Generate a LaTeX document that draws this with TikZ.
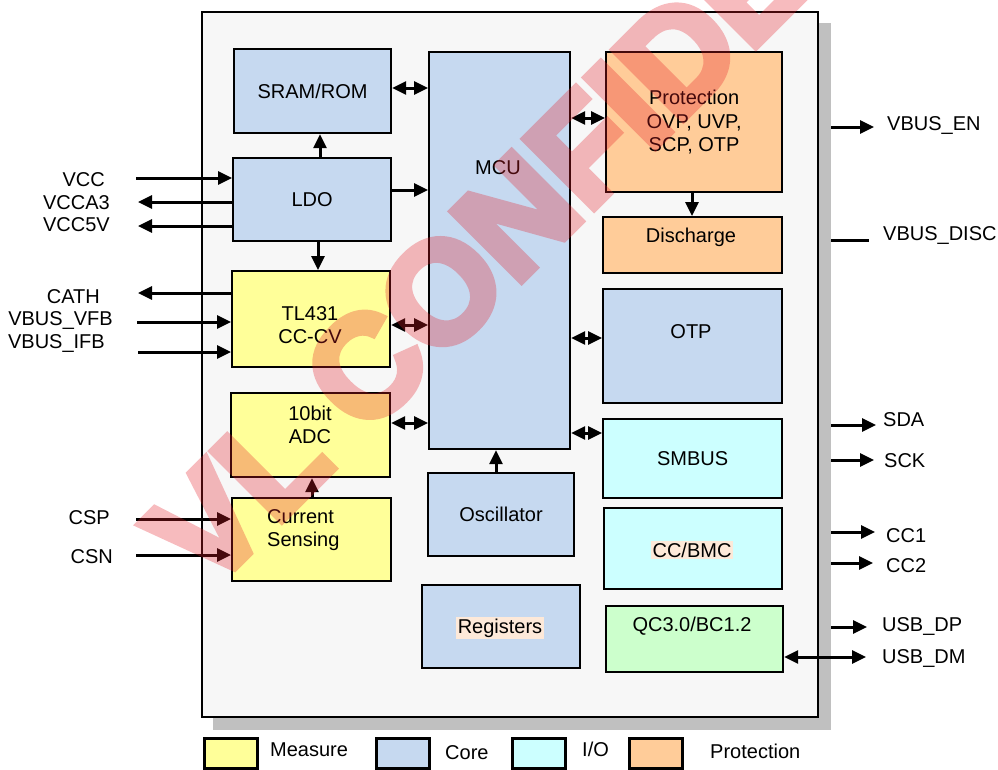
\documentclass[tikz,border=0pt]{standalone}
\usepackage{fontspec}
\setmainfont{Liberation Sans}
\newfontfamily\wmfont[FakeBold=5.5]{Liberation Sans Bold}
\usetikzlibrary{arrows.meta}

\definecolor{coreblue}{HTML}{C6D9F0}
\definecolor{measureyel}{HTML}{FFFF99}
\definecolor{iocyan}{HTML}{CCFFFF}
\definecolor{protorange}{HTML}{FFCC99}
\definecolor{qcgreen}{HTML}{CCFFCC}
\definecolor{framegray}{HTML}{F7F7F7}
\definecolor{shadowgray}{HTML}{C0C0C0}
\definecolor{hilite}{HTML}{FDE9D9}
\definecolor{wmred}{RGB}{230,30,40}

\begin{document}
\begin{tikzpicture}[x=1pt,y=-1pt,>={Triangle[length=14pt,width=13pt]},
    blk/.style={draw,line width=2.2,inner sep=0,anchor=north west,align=center,font=\fontsize{20}{23.5}\selectfont},
    core/.style={blk,fill=coreblue},
    measure/.style={blk,fill=measureyel},
    io/.style={blk,fill=iocyan},
    prot/.style={blk,fill=protorange},
    lbl/.style={inner sep=0,align=center,font=\fontsize{20}{23.5}\selectfont},
    sig/.style={line width=3},
    key/.style={draw,line width=3,inner sep=0,anchor=north west,minimum width=53,minimum height=30},
    wmark/.style={anchor=base west,rotate=45,inner sep=0,text=wmred,font=\fontsize{142}{142}\wmfont}]

    \useasboundingbox (0,0) rectangle (998,769);

    % chip outline
    \node[fill=shadowgray,inner sep=0,anchor=north west,minimum width=618,minimum height=707] (shadow) at (213,23) {};
    \node[draw,line width=2.2,fill=framegray,inner sep=0,anchor=north west,minimum width=616,minimum height=705] (chip) at (201,11) {};

    % blocks
    \node[core,minimum width=157,minimum height=84] (sram) at (233,48) {SRAM/ROM};
    \node[core,minimum width=158,minimum height=83] (ldo) at (232,157) {LDO};
    \node[measure,minimum width=158,minimum height=96] (tl) at (231,270) {};
    \node[lbl] (tlt) at (310,325) {TL431\\CC-CV};
    \node[measure,minimum width=159,minimum height=84] (adc) at (230,392) {};
    \node[lbl] (adct) at (310,425) {10bit\\ADC};
    \node[measure,minimum width=159,minimum height=83] (cs) at (231,497) {};
    \node[lbl,align=left,anchor=west] (cst) at (267,530) {Current\\Sensing};
    \node[core,minimum width=141,minimum height=397] (mcu) at (428,51) {};
    \node[lbl] (mcut) at (498,168) {MCU};
    \node[core,minimum width=146,minimum height=83] (osc) at (427,472) {Oscillator};
    \node[core,minimum width=158,minimum height=83] (reg) at (421,584) {};
    \node[lbl,fill=hilite,inner sep=1.5] (regt) at (500,628) {Registers};
    \node[prot,minimum width=176,minimum height=140] (prt) at (605,51) {Protection\\OVP, UVP,\\SCP, OTP};
    \node[prot,minimum width=179,minimum height=56] (dis) at (602,216) {};
    \node[lbl] (dist) at (691,237) {Discharge};
    \node[core,minimum width=179,minimum height=114] (otp) at (602,288) {};
    \node[lbl] (otpt) at (691,332) {OTP};
    \node[io,minimum width=179,minimum height=79] (smb) at (602,418) {SMBUS};
    \node[io,minimum width=178,minimum height=81] (cc) at (603,507) {};
    \node[lbl,fill=hilite,inner sep=1.5] (cct) at (692,550) {CC/BMC};
    \node[blk,fill=qcgreen,minimum width=177,minimum height=66] (qc) at (605,605) {};
    \node[lbl] (qct) at (692,626) {QC3.0/BC1.2};

    % internal links
    \draw[sig,<->] (sram.east |- 0,88) -- (mcu.west |- 0,88);
    \draw[sig,->] (ldo.north -| 320,0) -- (sram.south -| 320,0);
    \draw[sig,->] (ldo.east |- 0,190) -- (mcu.west |- 0,190);
    \draw[sig,->] (ldo.south -| 318,0) -- (tl.north -| 318,0);
    \draw[sig,<->] (tl.east |- 0,325) -- (mcu.west |- 0,325);
    \draw[sig,<->] (adc.east |- 0,423) -- (mcu.west |- 0,423);
    \draw[sig,->] (cs.north -| 312,0) -- (adc.south -| 312,0);
    \draw[sig,->] (osc.north -| 496,0) -- (mcu.south -| 496,0);
    \draw[sig,<->] (mcu.east |- 0,118) -- (prt.west |- 0,118);
    \draw[sig,->] (prt.south -| 692,0) -- (dis.north -| 692,0);
    \draw[sig,<->] (mcu.east |- 0,338) -- (otp.west |- 0,338);
    \draw[sig,<->] (mcu.east |- 0,433) -- (smb.west |- 0,433);

    % left pins
    \coordinate (vccin) at (136,178);
    \coordinate (vcca3out) at (138,202);
    \coordinate (vcc5vout) at (138,226);
    \coordinate (cathout) at (138,293);
    \coordinate (vfbin) at (137,322);
    \coordinate (ifbin) at (138,352);
    \coordinate (cspin) at (136,519);
    \coordinate (csnin) at (136,555);
    \draw[sig,->] (vccin) -- (vccin -| ldo.west);
    \draw[sig,->] (vcca3out -| ldo.west) -- (vcca3out);
    \draw[sig,->] (vcc5vout -| ldo.west) -- (vcc5vout);
    \draw[sig,->] (cathout -| tl.west) -- (cathout);
    \draw[sig,->] (vfbin) -- (vfbin -| tl.west);
    \draw[sig,->] (ifbin) -- (ifbin -| tl.west);
    \draw[sig,->] (cspin) -- (cspin -| cs.west);
    \draw[sig,->] (csnin) -- (csnin -| cs.west);
    \node[lbl,anchor=east] (vcc) at (105,180) {VCC};
    \node[lbl,anchor=east] (vcca3) at (110,203) {VCCA3};
    \node[lbl,anchor=east] (vcc5v) at (110,225) {VCC5V};
    \node[lbl,anchor=east] (cath) at (100,297) {CATH};
    \node[lbl,anchor=east] (vfb) at (113,320) {VBUS\_VFB};
    \node[lbl,anchor=east] (ifb) at (105,343) {VBUS\_IFB};
    \node[lbl,anchor=east] (csp) at (110,518) {CSP};
    \node[lbl,anchor=east] (csn) at (113,557) {CSN};

    % right pins
    \coordinate (enout) at (874,127);
    \coordinate (discout) at (869,240);
    \coordinate (sdaout) at (876,425);
    \coordinate (sckout) at (874,460);
    \coordinate (cc1out) at (875,532);
    \coordinate (cc2out) at (873,563);
    \coordinate (dpout) at (867,627);
    \coordinate (dmout) at (866,657);
    \draw[sig,->] (shadow.east |- enout) -- (enout);
    \draw[sig] (shadow.east |- discout) -- (discout);
    \draw[sig,->] (shadow.east |- sdaout) -- (sdaout);
    \draw[sig,->] (shadow.east |- sckout) -- (sckout);
    \draw[sig,->] (shadow.east |- cc1out) -- (cc1out);
    \draw[sig,->] (shadow.east |- cc2out) -- (cc2out);
    \draw[sig,->] (shadow.east |- dpout) -- (dpout);
    \draw[sig,<->] (qc.east |- dmout) -- (dmout);
    \node[lbl,anchor=west] (vbusen) at (887,126) {VBUS\_EN};
    \node[lbl,anchor=west] (vbusdisc) at (883,235) {VBUS\_DISC};
    \node[lbl,anchor=west] (sda) at (883,420) {SDA};
    \node[lbl,anchor=west] (sck) at (884,461) {SCK};
    \node[lbl,anchor=west] (cc1) at (886,536) {CC1};
    \node[lbl,anchor=west] (cc2) at (886,566) {CC2};
    \node[lbl,anchor=west] (usbdp) at (882,626) {USB\_DP};
    \node[lbl,anchor=west] (usbdm) at (882,658) {USB\_DM};

    % legend
    \node[key,fill=measureyel] (kmeas) at (203,737) {};
    \node[lbl,anchor=west] (tmeas) at (270,750) {Measure};
    \node[key,fill=coreblue] (kcore) at (375,737) {};
    \node[lbl,anchor=west] (tcore) at (445,753) {Core};
    \node[key,fill=iocyan] (kio) at (511,737) {};
    \node[lbl,anchor=west] (tio) at (582,749) {I/O};
    \node[key,fill=protorange] (kprot) at (628,737) {};
    \node[lbl,anchor=west] (tprot) at (710,751) {Protection};

    % watermark
    \begin{scope}[transparency group,opacity=0.3]
        \clip (0,0) rectangle (998,769);
        \node[wmark] (wm) at (208,594) {VL CONFIDENTIAL};
    \end{scope}
\end{tikzpicture}
\end{document}
